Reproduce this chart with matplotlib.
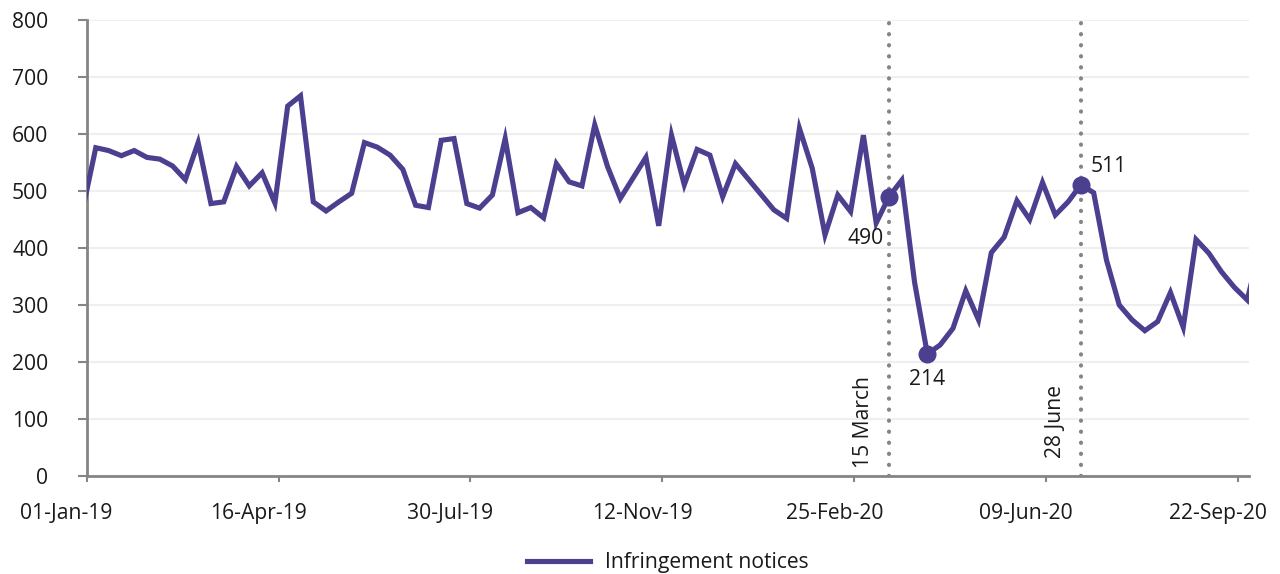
import matplotlib as mpl
import matplotlib.pyplot as plt
import matplotlib.transforms as mtransforms
import pandas as pd

# weekly infringement notices, Sundays starting 30-Dec-2018
weeks = pd.date_range("2018-12-30", periods=93, freq="7D")
notices = [
    470, 576, 571, 562, 571, 559, 556, 544, 520, 585,
    478, 481, 543, 509, 532, 479, 649, 667, 481, 465,
    481, 496, 585, 577, 563, 538, 475, 471, 589, 592,
    478, 470, 493, 592, 462, 471, 453, 548, 516, 509,
    616, 543, 487, 523, 559, 439, 598, 511, 573, 563,
    490, 548, 521, 494, 467, 452, 610, 540, 423, 493,
    464, 598, 444, 490, 519, 340, 214, 230, 259, 325,
    274, 392, 419, 483, 450, 515, 458, 481, 511, 497,
    379, 300, 274, 255, 271, 322, 261, 415, 391, 358,
    331, 309, 400,
]

tick_labels = ["01-Jan-19", "16-Apr-19", "30-Jul-19", "12-Nov-19",
               "25-Feb-20", "09-Jun-20", "22-Sep-20"]
tick_dates = pd.to_datetime(tick_labels, format="%d-%b-%y")

event_dates = pd.to_datetime(["2020-03-15", "2020-06-28"])
event_labels = ["15 March", "28 June"]

# highlighted points and where their value labels sit (offset points)
marked_dates = pd.to_datetime(["2020-03-15", "2020-04-05", "2020-06-28"])
marked_offsets = [(-4, -30), (0, -18), (7, 13)]
marked_ha = ["right", "center", "left"]

purple = "#4b3f8f"
grey = "#858585"

plt.rcParams["font.family"] = ["Open Sans", "DejaVu Sans"]
plt.rcParams["font.size"] = 15.2
plt.rcParams["text.color"] = "#1a1a1a"
plt.rcParams["xtick.labelcolor"] = "#1a1a1a"
plt.rcParams["ytick.labelcolor"] = "#1a1a1a"

fig = plt.figure(figsize=(12.8, 5.74), dpi=100)
ax = fig.add_axes([0.0677, 0.1707, 0.9081, 0.7944])

ax.plot(weeks, notices, color=purple, linewidth=3.7,
        solid_joinstyle="miter", label="Infringement notices", zorder=3)

for d, lbl in zip(event_dates, event_labels):
    ax.plot([d, d], [0, 800], color=grey, linewidth=3.0,
            linestyle=(0, (0.05, 2.6)), dash_capstyle="round", zorder=2)
    ax.annotate(lbl, (d, 95), xytext=(-11, 0), textcoords="offset points",
                rotation=90, ha="right", va="center")

series = pd.Series(notices, index=weeks)
for d, off, ha in zip(marked_dates, marked_offsets, marked_ha):
    v = series[d]
    ax.plot([d], [v], "o", color=purple, markersize=12, zorder=4)
    ax.annotate(str(v), (d, v), xytext=off, textcoords="offset points",
                ha=ha, va="center")

ax.set_ylim(0, 800)
ax.set_yticks(range(0, 801, 100))
ax.set_xlim(pd.Timestamp("2019-01-01"), pd.Timestamp("2020-09-28"))
ax.set_xticks(tick_dates)
ax.set_xticklabels(tick_labels)

ax.grid(axis="y", color="#efefef", linewidth=1.5)
ax.set_axisbelow(True)

ax.spines["top"].set_visible(False)
ax.spines["right"].set_visible(False)
for side in ["left", "bottom"]:
    ax.spines[side].set_color(grey)
    ax.spines[side].set_linewidth(2)

ax.tick_params(axis="y", length=6.5, width=1.5, color=grey, pad=21)
ax.tick_params(axis="x", length=4.5, width=1.5, color=grey, pad=15)

# labels in the original sit a little left of their ticks
shift = mtransforms.ScaledTranslation(-0.2, 0, fig.dpi_scale_trans)
for lbl in ax.get_xticklabels():
    lbl.set_transform(lbl.get_transform() + shift)

ax.legend(loc="center", bbox_to_anchor=(0.5, -0.19), frameon=False,
          handlelength=3.0, handletextpad=0.7)

plt.savefig("out.png", dpi=100)
